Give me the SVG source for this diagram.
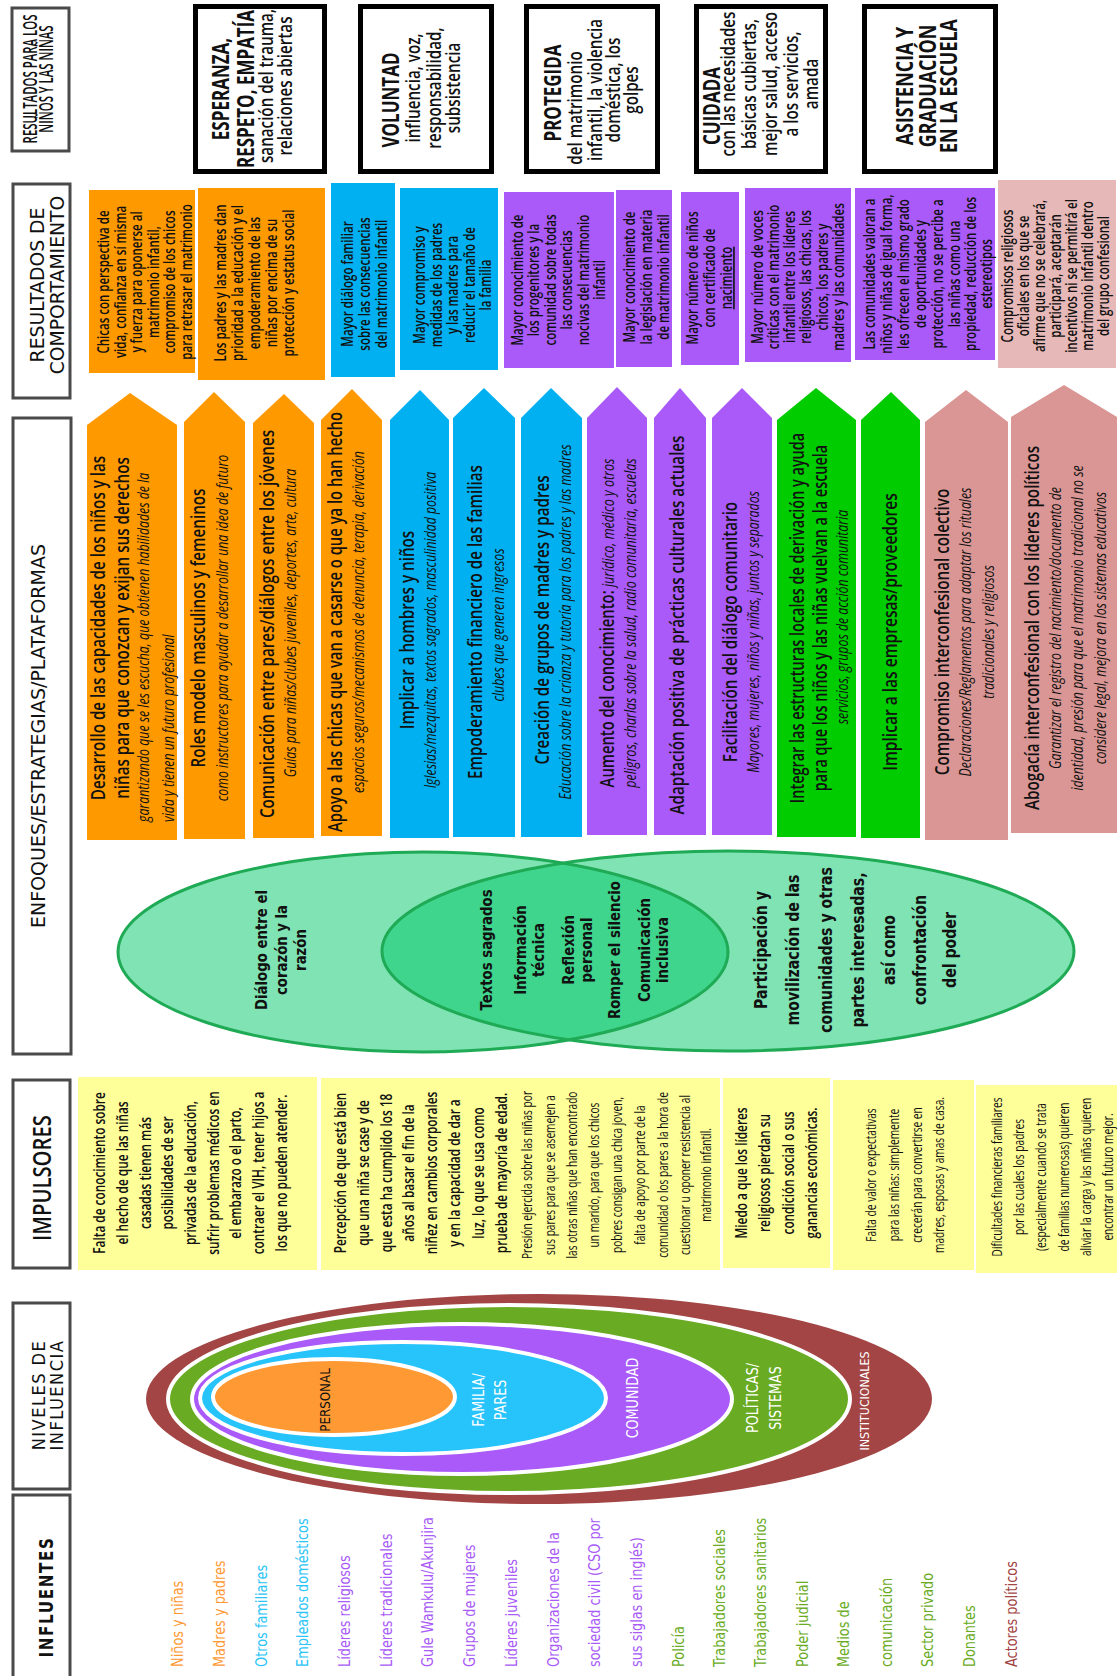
<svg xmlns="http://www.w3.org/2000/svg" width="1118" height="1676" viewBox="0 0 1118 1676">
<style>
text{font-family:"Open Sans","Liberation Sans",sans-serif;text-anchor:middle;fill:#111}
.lbl{fill:#fff;stroke:#4a4a4a;stroke-width:3}
.hdr{fill:#fff;stroke:#000;stroke-width:5}
.or{fill:#FF9900}.bl{fill:#00B0F0}.pu{fill:#A95AF8}.gr{fill:#00CC00}.pk{fill:#D99694}.pk2{fill:#E6B8B7}.ye{fill:#FFFF99}
.dv{font-family:"DejaVu Sans","Verdana",sans-serif}
.lab{font-size:20px}
.ht{font-size:23px;font-weight:700}
.hs{font-size:19px;font-weight:600}
.bt{font-size:16px;font-weight:600}
.ab{font-size:19px;font-weight:600}
.ai{font-size:16px;font-style:italic}
.vt{font-size:16px;font-weight:700}
.vt2{font-size:17px;font-weight:700}
.lv{font-size:14px;fill:#fff}
.it{font-size:16px;font-weight:600}
.ic{font-size:14.5px;font-weight:500}
.inf{font-size:15px;text-anchor:start}
.st{text-anchor:start}
.venn{fill:#00C768;fill-opacity:.5}
.vline{fill:none;stroke:#1FAA55;stroke-width:3}
.ring{stroke:#fff;stroke-width:4}
</style>

<!-- Row labels -->
<g id="lbl-resultados-ninos"><rect class="lbl" x="12" y="8" width="57" height="143"/>
<text style="font-size:19px;font-weight:600" transform="translate(0,79) rotate(-90) scale(.6,1)"><tspan x="0" y="37">RESULTADOS PARA LOS</tspan><tspan x="0" y="53">NIÑOS Y LAS NIÑAS</tspan></text></g>
<g id="lbl-comportamiento"><rect class="lbl" x="13" y="184" width="57" height="214"/>
<text class="dv lab" transform="translate(0,285) rotate(-90) scale(.94,1)"><tspan x="0" y="44">RESULTADOS DE</tspan><tspan x="0" y="64">COMPORTAMIENTO</tspan></text></g>
<g id="lbl-enfoques"><rect class="lbl" x="13" y="418" width="58" height="636"/>
<text class="dv lab" transform="translate(0,736) rotate(-90) scale(.95,1)"><tspan x="0" y="45">ENFOQUES/ESTRATEGIAS/PLATAFORMAS</tspan></text></g>
<g id="lbl-impulsores"><rect class="lbl" x="13" y="1080" width="57" height="188"/>
<text style="font-size:26px;font-weight:600" transform="translate(0,1178) rotate(-90) scale(.78,1)"><tspan x="0" y="51">IMPULSORES</tspan></text></g>
<g id="lbl-niveles"><rect class="lbl" x="13" y="1303" width="57" height="186"/>
<text class="dv" style="font-size:17px;letter-spacing:1.5px" transform="translate(0,1395) rotate(-90) scale(.96,1)"><tspan x="0" y="45">NIVELES DE</tspan><tspan x="0" y="63">INFLUENCIA</tspan></text></g>
<g id="lbl-influentes"><rect class="lbl" x="13" y="1495" width="57" height="190"/>
<text class="dv" style="font-size:19px;font-weight:700;letter-spacing:2px" transform="translate(0,1597) rotate(-90) scale(.8,1)"><tspan x="0" y="53">INFLUENTES</tspan></text></g>

<!-- Row 1: outcomes for children -->
<g id="out-esperanza"><rect class="hdr" x="195.5" y="6.5" width="129" height="165"/>
<text class="ht" transform="translate(0,89) rotate(-90) scale(.74,1)"><tspan x="0" y="229">ESPERANZA,</tspan><tspan x="0" y="254">RESPETO, EMPATÍA</tspan></text>
<text class="hs" transform="translate(0,86) rotate(-90) scale(.8,1)"><tspan x="0" y="273">sanación del trauma,</tspan><tspan x="0" y="292">relaciones abiertas</tspan></text></g>
<g id="out-voluntad"><rect class="hdr" x="360.5" y="6.5" width="131" height="165"/>
<text class="ht" transform="translate(0,100) rotate(-90) scale(.74,1)"><tspan x="0" y="399">VOLUNTAD</tspan></text>
<text class="hs" transform="translate(0,88) rotate(-90) scale(.8,1)"><tspan x="0" y="420">influencia, voz,</tspan><tspan x="0" y="441">responsabilidad,</tspan><tspan x="0" y="460">subsistencia</tspan></text></g>
<g id="out-protegida"><rect class="hdr" x="526.5" y="6.5" width="131" height="165"/>
<text class="ht" transform="translate(0,93) rotate(-90) scale(.74,1)"><tspan x="0" y="561">PROTEGIDA</tspan></text>
<text class="hs" transform="translate(0,108) rotate(-90) scale(.8,1)"><tspan x="0" y="582">del matrimonio</tspan></text>
<text class="hs" transform="translate(0,90) rotate(-90) scale(.8,1)"><tspan x="0" y="602">infantil, la violencia</tspan><tspan x="0" y="620">doméstica, los</tspan><tspan x="0" y="638">golpes</tspan></text></g>
<g id="out-cuidada"><rect class="hdr" x="696.5" y="6.5" width="129" height="165"/>
<text class="ht" transform="translate(0,106) rotate(-90) scale(.74,1)"><tspan x="0" y="720">CUIDADA</tspan></text>
<text class="hs" transform="translate(0,84) rotate(-90) scale(.8,1)"><tspan x="0" y="735">con las necesidades</tspan><tspan x="0" y="756">básicas cubiertas,</tspan><tspan x="0" y="777">mejor salud, acceso</tspan><tspan x="0" y="798">a los servicios,</tspan><tspan x="0" y="818">amada</tspan></text></g>
<g id="out-asistencia"><rect class="hdr" x="864.5" y="6.5" width="131" height="165"/>
<text class="ht" transform="translate(0,86) rotate(-90) scale(.78,1)"><tspan x="0" y="913">ASISTENCIA Y</tspan><tspan x="0" y="936">GRADUACIÓN</tspan><tspan x="0" y="957">EN LA ESCUELA</tspan></text></g>

<!-- Row 2: behaviour outcomes -->
<g id="beh-1"><rect class="or" x="89" y="190" width="106" height="183"/>
<text class="bt" transform="translate(0,282) rotate(-90) scale(.72,1)"><tspan x="0" y="109.5">Chicas con perspectiva de</tspan><tspan x="0" y="126">vida, confianza en sí misma</tspan><tspan x="0" y="142.5">y fuerza para oponerse al</tspan><tspan x="0" y="159">matrimonio infantil,</tspan><tspan x="0" y="175.5">compromiso de los chicos</tspan><tspan x="0" y="192">para retrasar el matrimonio</tspan></text></g>
<g id="beh-2"><rect class="or" x="198" y="188" width="127" height="192"/>
<text class="bt" transform="translate(0,283) rotate(-90) scale(.72,1)"><tspan x="0" y="226">Los padres y las madres dan</tspan><tspan x="0" y="243">prioridad a la educación y el</tspan><tspan x="0" y="260">empoderamiento de las</tspan><tspan x="0" y="277">niñas por encima de su</tspan><tspan x="0" y="294">protección y estatus social</tspan></text></g>
<g id="beh-3"><rect class="bl" x="331" y="183" width="64" height="194"/>
<text class="bt" transform="translate(0,284) rotate(-90) scale(.72,1)"><tspan x="0" y="353">Mayor diálogo familiar</tspan><tspan x="0" y="370">sobre las consecuencias</tspan><tspan x="0" y="387">del matrimonio infantil</tspan></text></g>
<g id="beh-4"><rect class="bl" x="400" y="188" width="98" height="182"/>
<text class="bt" transform="translate(0,285) rotate(-90) scale(.72,1)"><tspan x="0" y="425">Mayor compromiso y</tspan><tspan x="0" y="442">medidas de los padres</tspan><tspan x="0" y="458">y las madres para</tspan><tspan x="0" y="475">reducir el tamaño de</tspan><tspan x="0" y="491">la familia</tspan></text></g>
<g id="beh-5"><rect class="pu" x="504" y="192" width="110" height="176"/>
<text class="bt" transform="translate(0,280) rotate(-90) scale(.72,1)"><tspan x="0" y="523">Mayor conocimiento de</tspan><tspan x="0" y="539">los progenitores y la</tspan><tspan x="0" y="556">comunidad sobre todas</tspan><tspan x="0" y="572">las consecuencias</tspan><tspan x="0" y="589">nocivas del matrimonio</tspan><tspan x="0" y="605">infantil</tspan></text></g>
<g id="beh-6"><rect class="pu" x="616" y="190" width="56" height="177"/>
<text class="bt" transform="translate(0,277) rotate(-90) scale(.72,1)"><tspan x="0" y="635">Mayor conocimiento de</tspan><tspan x="0" y="652">la legislación en materia</tspan><tspan x="0" y="669">de matrimonio infantil</tspan></text></g>
<g id="beh-7"><rect class="pu" x="681" y="192" width="58" height="173"/>
<text class="bt" transform="translate(0,278) rotate(-90) scale(.72,1)"><tspan x="0" y="698">Mayor número de niños</tspan><tspan x="0" y="715">con certificado de</tspan><tspan x="0" y="732" text-decoration="underline">nacimiento</tspan></text></g>
<g id="beh-8"><rect class="pu" x="745" y="188" width="106" height="174"/>
<text class="bt" transform="translate(0,277) rotate(-90) scale(.72,1)"><tspan x="0" y="763">Mayor número de voces</tspan><tspan x="0" y="779">críticas con el matrimonio</tspan><tspan x="0" y="795">infantil entre los líderes</tspan><tspan x="0" y="811">religiosos, las chicas, los</tspan><tspan x="0" y="828">chicos, los padres y</tspan><tspan x="0" y="844">madres y las comunidades</tspan></text></g>
<g id="beh-9"><rect class="pu" x="855" y="188" width="140" height="172"/>
<text class="bt" transform="translate(0,274) rotate(-90) scale(.72,1)"><tspan x="0" y="875">Las comunidades valoran a</tspan><tspan x="0" y="892">niños y niñas de igual forma,</tspan><tspan x="0" y="909">les ofrecen el mismo grado</tspan><tspan x="0" y="926">de oportunidades y</tspan><tspan x="0" y="943">protección, no se percibe a</tspan><tspan x="0" y="960">las niñas como una</tspan><tspan x="0" y="976">propiedad, reducción de los</tspan><tspan x="0" y="992">estereotipos</tspan></text></g>
<g id="beh-10"><rect class="pk2" x="998" y="180" width="118" height="188"/>
<text class="bt" transform="translate(0,276) rotate(-90) scale(.72,1)"><tspan x="0" y="1013">Compromisos religiosos</tspan><tspan x="0" y="1029">oficiales en los que se</tspan><tspan x="0" y="1045">afirme que no se celebrará,</tspan><tspan x="0" y="1061">participará, aceptarán</tspan><tspan x="0" y="1077">incentivos ni se permitirá el</tspan><tspan x="0" y="1093">matrimonio infantil dentro</tspan><tspan x="0" y="1109">del grupo confesional</tspan></text></g>

<!-- Row 3: approaches (arrows) -->
<g id="app-1"><polygon class="or" points="87,425 130,393 177,425 177,840 87,840"/>
<text class="ab" transform="translate(0,628) rotate(-90) scale(.8,1)"><tspan x="0" y="105">Desarrollo de las capacidades de los niños y las</tspan><tspan x="0" y="129">niñas para que conozcan y exijan sus derechos</tspan></text>
<text class="ai st" transform="translate(0,822) rotate(-90) scale(.77,1)"><tspan x="0" y="149">garantizando que se les escucha, que obtienen habilidades de la</tspan><tspan x="0" y="174">vida y tienen un futuro profesional</tspan></text></g>
<g id="app-2"><polygon class="or" points="184,422 214,392 245,422 245,839 184,839"/>
<text class="ab" transform="translate(0,628) rotate(-90) scale(.8,1)"><tspan x="0" y="205">Roles modelo masculinos y femeninos</tspan></text>
<text class="ai" transform="translate(0,628) rotate(-90) scale(.77,1)"><tspan x="0" y="228">como instructores para ayudar a desarrollar una idea de futuro</tspan></text></g>
<g id="app-3"><polygon class="or" points="253,423 284,394 314,423 314,838 253,838"/>
<text class="ab" transform="translate(0,624) rotate(-90) scale(.8,1)"><tspan x="0" y="274">Comunicación entre pares/diálogos entre los jóvenes</tspan></text>
<text class="ai" transform="translate(0,623) rotate(-90) scale(.77,1)"><tspan x="0" y="296">Guías para niñas/clubes juveniles, deportes, arte, cultura</tspan></text></g>
<g id="app-4"><polygon class="or" points="321,420 352,389 382,420 382,836 321,836"/>
<text class="ab" transform="translate(0,622) rotate(-90) scale(.78,1)"><tspan x="0" y="342">Apoyo a las chicas que van a casarse o que ya lo han hecho</tspan></text>
<text class="ai" transform="translate(0,622) rotate(-90) scale(.77,1)"><tspan x="0" y="364">espacios seguros/mecanismos de denuncia, terapia, derivación</tspan></text></g>
<g id="app-5"><polygon class="bl" points="390,420 420,390 449,420 449,838 390,838"/>
<text class="ab" transform="translate(0,630) rotate(-90) scale(.8,1)"><tspan x="0" y="414">Implicar a hombres y niños</tspan></text>
<text class="ai" transform="translate(0,630) rotate(-90) scale(.77,1)"><tspan x="0" y="436">Iglesias/mezquitas, textos sagrados, masculinidad positiva</tspan></text></g>
<g id="app-6"><polygon class="bl" points="453,418 484,388 515,418 515,837 453,837"/>
<text class="ab" transform="translate(0,622) rotate(-90) scale(.8,1)"><tspan x="0" y="482">Empoderamiento financiero de las familias</tspan></text>
<text class="ai" transform="translate(0,625) rotate(-90) scale(.77,1)"><tspan x="0" y="504">clubes que generen ingresos</tspan></text></g>
<g id="app-7"><polygon class="bl" points="521,418 551,388 582,418 582,837 521,837"/>
<text class="ab" transform="translate(0,620) rotate(-90) scale(.8,1)"><tspan x="0" y="549">Creación de grupos de madres y padres</tspan></text>
<text class="ai" transform="translate(0,622) rotate(-90) scale(.77,1)"><tspan x="0" y="571">Educación sobre la crianza y tutoría para los padres y las madres</tspan></text></g>
<g id="app-8"><polygon class="pu" points="587,418 617,387 647,418 647,835 587,835"/>
<text class="ai" transform="translate(0,623) rotate(-90) scale(.78,1)"><tspan x="0" y="614" style="font-size:19px;font-weight:600;font-style:normal">Aumento del conocimiento:</tspan><tspan> jurídico, médico y otros</tspan><tspan x="0" y="636">peligros, charlas sobre la salud, radio comunitaria, escuelas</tspan></text></g>
<g id="app-9"><polygon class="pu" points="654,418 680,388 706,418 706,835 654,835"/>
<text class="ab" transform="translate(0,625) rotate(-90) scale(.8,1)"><tspan x="0" y="684">Adaptación positiva de prácticas culturales actuales</tspan></text></g>
<g id="app-10"><polygon class="pu" points="712,418 742,388 772,418 772,835 712,835"/>
<text class="ab" transform="translate(0,632) rotate(-90) scale(.8,1)"><tspan x="0" y="737">Facilitación del diálogo comunitario</tspan></text>
<text class="ai" transform="translate(0,632) rotate(-90) scale(.77,1)"><tspan x="0" y="759">Mayores, mujeres, niños y niñas, juntos y separados</tspan></text></g>
<g id="app-11"><polygon class="gr" points="777,420 816,388 856,420 856,837 777,837"/>
<text class="ab" transform="translate(0,618) rotate(-90) scale(.76,1)"><tspan x="0" y="804">Integrar las estructuras locales de derivación y ayuda</tspan><tspan x="0" y="827">para que los niños y las niñas vuelvan a la escuela</tspan></text>
<text class="ai" transform="translate(0,617) rotate(-90) scale(.77,1)"><tspan x="0" y="848">servicios, grupos de acción comunitaria</tspan></text></g>
<g id="app-12"><polygon class="gr" points="861,420 891,392 920,420 920,838 861,838"/>
<text class="ab" transform="translate(0,632) rotate(-90) scale(.82,1)"><tspan x="0" y="897">Implicar a las empresas/proveedores</tspan></text></g>
<g id="app-13"><polygon class="pk" points="925,422 966,390 1008,422 1008,840 925,840"/>
<text class="ab" transform="translate(0,632) rotate(-90) scale(.8,1)"><tspan x="0" y="949">Compromiso interconfesional colectivo</tspan></text>
<text class="ai" transform="translate(0,632) rotate(-90) scale(.77,1)"><tspan x="0" y="971">Declaraciones/Reglamentos para adaptar los rituales</tspan><tspan x="0" y="994">tradicionales y religiosos</tspan></text></g>
<g id="app-14"><polygon class="pk" points="1011,417 1064,385 1117,417 1117,833 1011,833"/>
<text class="ab" transform="translate(0,628) rotate(-90) scale(.8,1)"><tspan x="0" y="1039">Abogacía interconfesional con los líderes políticos</tspan></text>
<text class="ai" transform="translate(0,628) rotate(-90) scale(.77,1)"><tspan x="0" y="1061">Garantizar el registro del nacimiento/documento de</tspan><tspan x="0" y="1083">identidad, presión para que el matrimonio tradicional no se</tspan><tspan x="0" y="1106">considere legal, mejora en los sistemas educativos</tspan></text></g>

<!-- Venn -->
<g id="venn">
<ellipse class="venn" cx="423" cy="952" rx="305" ry="100"/>
<ellipse class="venn" cx="728" cy="951" rx="346" ry="100"/>
<ellipse class="vline" cx="423" cy="952" rx="305" ry="100"/>
<ellipse class="vline" cx="728" cy="951" rx="346" ry="100"/>
</g>
<g id="venn-left"><text class="dv vt" transform="translate(0,950) rotate(-90) scale(.83,1)"><tspan x="0" y="267">Diálogo entre el</tspan><tspan x="0" y="287">corazón y la</tspan><tspan x="0" y="306">razón</tspan></text></g>
<g id="venn-middle"><text class="dv vt" transform="translate(0,950) rotate(-90) scale(.83,1)"><tspan x="0" y="492">Textos sagrados</tspan><tspan x="0" y="526">Información</tspan><tspan x="0" y="544">técnica</tspan><tspan x="0" y="574">Reflexión</tspan><tspan x="0" y="592">personal</tspan><tspan x="0" y="620">Romper el silencio</tspan><tspan x="0" y="650">Comunicación</tspan><tspan x="0" y="668">inclusiva</tspan></text></g>
<g id="venn-right"><text class="dv vt2" transform="translate(0,950) rotate(-90) scale(.83,1)"><tspan x="0" y="767">Participación y</tspan><tspan x="0" y="799">movilización de las</tspan><tspan x="0" y="832">comunidades y otras</tspan><tspan x="0" y="864">partes interesadas,</tspan><tspan x="0" y="895">así como</tspan><tspan x="0" y="926">confrontación</tspan><tspan x="0" y="956">del poder</tspan></text></g>

<!-- Row 5: drivers -->
<g id="drv-1"><rect class="ye" x="78" y="1077" width="239" height="193"/>
<text class="it" transform="translate(0,1173) rotate(-90) scale(.74,1)"><tspan x="0" y="105.5">Falta de conocimiento sobre</tspan><tspan x="0" y="128.5">el hecho de que las niñas</tspan><tspan x="0" y="151.5">casadas tienen más</tspan><tspan x="0" y="173.5">posibilidades de ser</tspan><tspan x="0" y="196.5">privadas de la educación,</tspan><tspan x="0" y="219.5">sufrir problemas médicos en</tspan><tspan x="0" y="241.5">el embarazo o el parto,</tspan><tspan x="0" y="264.5">contraer el VIH, tener hijos a</tspan><tspan x="0" y="287.5">los que no pueden atender.</tspan></text></g>
<g id="drv-2"><rect class="ye" x="321" y="1078" width="399" height="192"/>
<text class="it" transform="translate(0,1173) rotate(-90) scale(.74,1)"><tspan x="0" y="346.5">Percepción de que está bien</tspan><tspan x="0" y="369.5">que una niña se case y de</tspan><tspan x="0" y="392.5">que esta ha cumplido los 18</tspan><tspan x="0" y="414.5">años al basar el fin de la</tspan><tspan x="0" y="437.5">niñez en cambios corporales</tspan><tspan x="0" y="460.5">y en la capacidad de dar a</tspan><tspan x="0" y="484.5">luz, lo que se usa como</tspan><tspan x="0" y="507.5">prueba de mayoría de edad.</tspan></text>
<text class="ic" transform="translate(0,1175) rotate(-90) scale(.7,1)"><tspan x="0" y="532">Presión ejercida sobre las niñas por</tspan><tspan x="0" y="555">sus pares para que se asemejen a</tspan><tspan x="0" y="577">las otras niñas que han encontrado</tspan><tspan x="0" y="599">un marido, para que los chicos</tspan><tspan x="0" y="622">pobres consigan una chica joven,</tspan><tspan x="0" y="645">falta de apoyo por parte de la</tspan><tspan x="0" y="668">comunidad o los pares a la hora de</tspan><tspan x="0" y="690">cuestionar u oponer resistencia al</tspan><tspan x="0" y="711">matrimonio infantil.</tspan></text></g>
<g id="drv-3"><rect class="ye" x="723" y="1078" width="107" height="190"/>
<text class="it" transform="translate(0,1173) rotate(-90) scale(.74,1)"><tspan x="0" y="747.5">Miedo a que los líderes</tspan><tspan x="0" y="770.5">religiosos pierdan su</tspan><tspan x="0" y="794.5">condición social o sus</tspan><tspan x="0" y="817.5">ganancias económicas.</tspan></text></g>
<g id="drv-4"><rect class="ye" x="833" y="1080" width="141" height="190"/>
<text class="ic" transform="translate(0,1175) rotate(-90) scale(.7,1)"><tspan x="0" y="876">Falta de valor o expectativas</tspan><tspan x="0" y="899">para las niñas: simplemente</tspan><tspan x="0" y="922">crecerán para convertirse en</tspan><tspan x="0" y="944">madres, esposas y amas de casa.</tspan></text></g>
<g id="drv-5"><rect class="ye" x="976" y="1085" width="141" height="188"/>
<text class="ic" transform="translate(0,1177) rotate(-90) scale(.7,1)"><tspan x="0" y="1002">Dificultades financieras familiares</tspan><tspan x="0" y="1024">por las cuales los padres</tspan><tspan x="0" y="1046">(especialmente cuando se trata</tspan><tspan x="0" y="1069">de familias numerosas) quieren</tspan><tspan x="0" y="1091">aliviar la carga y las niñas quieren</tspan><tspan x="0" y="1113">encontrar un futuro mejor.</tspan></text></g>

<!-- Row 6: levels of influence -->
<g id="lvl-institucionales"><ellipse cx="539" cy="1399" rx="393" ry="105" fill="#A34545"/>
<text class="dv lv" style="font-size:13px" transform="translate(0,1401) rotate(-90) scale(.85,1)"><tspan x="0" y="869">INSTITUCIONALES</tspan></text></g>
<g id="lvl-politicas"><ellipse class="ring" cx="509" cy="1399" rx="341" ry="94" fill="#6AAB24"/>
<text class="dv lv" style="font-size:15px" transform="translate(0,1398) rotate(-90) scale(.85,1)"><tspan x="0" y="758">POLÍTICAS/</tspan><tspan x="0" y="781">SISTEMAS</tspan></text></g>
<g id="lvl-comunidad"><ellipse class="ring" cx="462" cy="1399" rx="270" ry="75" fill="#A95AF8"/>
<text class="dv lv" style="font-size:15px" transform="translate(0,1398) rotate(-90) scale(.85,1)"><tspan x="0" y="638">COMUNIDAD</tspan></text></g>
<g id="lvl-familia"><ellipse class="ring" cx="403" cy="1398" rx="203" ry="56" fill="#27C3FB"/>
<text class="dv lv" style="font-size:15px" transform="translate(0,1400) rotate(-90) scale(.85,1)"><tspan x="0" y="484">FAMILIA/</tspan><tspan x="0" y="506">PARES</tspan></text></g>
<g id="lvl-personal"><ellipse class="ring" cx="334" cy="1397" rx="121" ry="38" fill="#FF9933"/>
<text class="dv lv" style="font-size:14px;fill:#111" transform="translate(0,1400) rotate(-90) scale(.85,1)"><tspan x="0" y="330">PERSONAL</tspan></text></g>

<!-- Row 7: influencers -->
<g id="influencers" transform="translate(0,1667) rotate(-90) scale(.86,1)">
<g id="inf-1"><text class="dv inf" x="0" y="183.5" style="fill:#FF9933">Niños y niñas</text></g>
<g id="inf-2"><text class="dv inf" x="0" y="225.5" style="fill:#FF9933">Madres y padres</text></g>
<g id="inf-3"><text class="dv inf" x="0" y="267.5" style="fill:#2BC4F7">Otros familiares</text></g>
<g id="inf-4"><text class="dv inf" x="0" y="308.5" style="fill:#2BC4F7">Empleados domésticos</text></g>
<g id="inf-5"><text class="dv inf" x="0" y="350.5" style="fill:#A95AF8">Líderes religiosos</text></g>
<g id="inf-6"><text class="dv inf" x="0" y="392.5" style="fill:#A95AF8">Líderes tradicionales</text></g>
<g id="inf-7"><text class="dv inf" x="0" y="433.5" style="fill:#A95AF8">Gule Wamkulu/Akunjira</text></g>
<g id="inf-8"><text class="dv inf" x="0" y="475.5" style="fill:#A95AF8">Grupos de mujeres</text></g>
<g id="inf-9"><text class="dv inf" x="0" y="517.5" style="fill:#A95AF8">Líderes juveniles</text></g>
<g id="inf-10"><text class="dv inf" x="0" y="559.5" style="fill:#A95AF8">Organizaciones de la</text><text class="dv inf" x="0" y="600.5" style="fill:#A95AF8">sociedad civil (CSO por</text><text class="dv inf" x="0" y="642.5" style="fill:#A95AF8">sus siglas en inglés)</text></g>
<g id="inf-11"><text class="dv inf" x="0" y="683.5" style="fill:#6AAB24">Policía</text></g>
<g id="inf-12"><text class="dv inf" x="0" y="725.5" style="fill:#6AAB24">Trabajadores sociales</text></g>
<g id="inf-13"><text class="dv inf" x="0" y="766.5" style="fill:#6AAB24">Trabajadores sanitarios</text></g>
<g id="inf-14"><text class="dv inf" x="0" y="808.5" style="fill:#6AAB24">Poder judicial</text></g>
<g id="inf-15"><text class="dv inf" x="0" y="849.5" style="fill:#6AAB24">Medios de</text><text class="dv inf" x="0" y="892.5" style="fill:#6AAB24">comunicación</text></g>
<g id="inf-16"><text class="dv inf" x="0" y="933.5" style="fill:#6AAB24">Sector privado</text></g>
<g id="inf-17"><text class="dv inf" x="0" y="975.5" style="fill:#6AAB24">Donantes</text></g>
<g id="inf-18"><text class="dv inf" x="0" y="1017.5" style="fill:#A34545">Actores políticos</text></g>
</g>
<g id="connectors"></g>
</svg>
